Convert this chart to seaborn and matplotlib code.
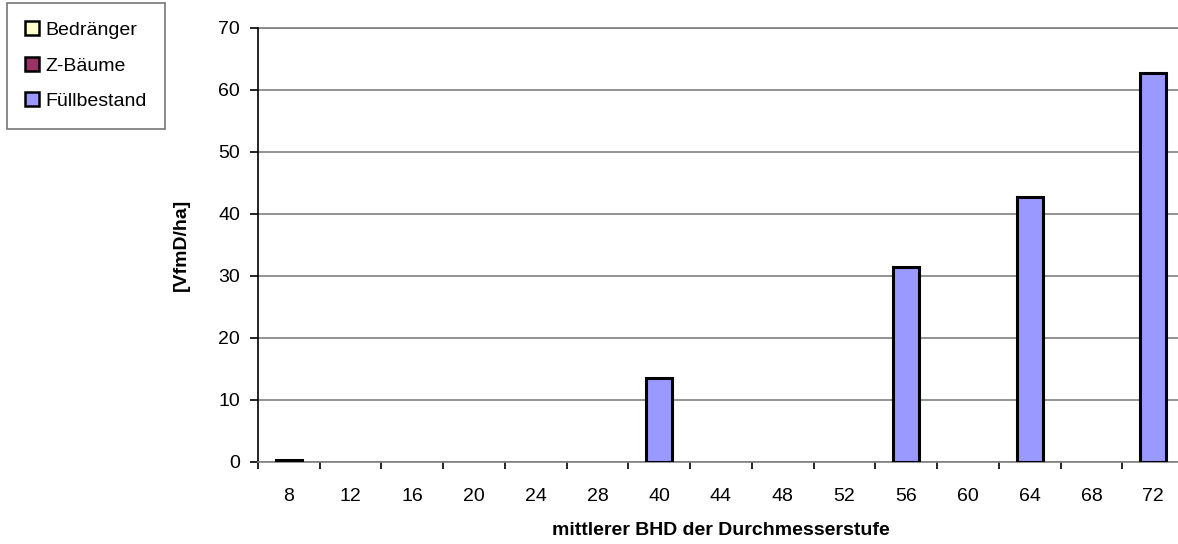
import numpy as np, pandas as pd
import matplotlib as mpl; mpl.use("Agg")
import matplotlib.pyplot as plt
from matplotlib.patches import Patch
import seaborn as sns

# classes (mittlerer BHD) and stacked series values [VfmD/ha]
BHD = [8, 12, 16, 20, 24, 28, 40, 44, 48, 52, 56, 60, 64, 68, 72]
BEDRAENGER = [0, 0, 0, 0, 0, 0, 0, 0, 0, 0, 0, 0, 0, 0, 0]
Z_BAEUME = [0, 0, 0, 0, 0, 0, 0, 0, 0, 0, 0, 0, 0, 0, 0]
FUELL = [0.25, 0, 0, 0, 0, 0, 13.6, 0, 0, 0, 31.5, 0, 42.7, 0, 62.7]
SERIES = ["Bedränger", "Z-Bäume", "Füllbestand"]
PAL = {"Bedränger": "#FFFFCC", "Z-Bäume": "#993366", "Füllbestand": "#9999FF"}

sns.set_theme(style="white")
plt.rcParams["font.family"] = ["Liberation Sans", "DejaVu Sans"]
plt.rcParams.update({"text.color": "black", "axes.labelcolor": "black",
                     "xtick.color": "black", "ytick.color": "black"})

df = pd.DataFrame({"BHD": [str(b) for b in BHD], "Bedränger": BEDRAENGER,
                   "Z-Bäume": Z_BAEUME, "Füllbestand": FUELL})
# cumulative tops for stacking (Excel order: first series at bottom)
df["top_B"] = df["Bedränger"]
df["top_Z"] = df["top_B"] + df["Z-Bäume"]
df["top_F"] = df["top_Z"] + df["Füllbestand"]

fig = plt.figure(figsize=(11.78, 5.44), dpi=100)
# plot area runs a little past the right image edge, as in the original export
ax = fig.add_axes([258/1178, 1-462/544, (1184-258)/1178, (462-28)/544])
order = [str(b) for b in BHD]
for col, name in [("top_F", "Füllbestand"), ("top_Z", "Z-Bäume"), ("top_B", "Bedränger")]:
    d = df.copy(); d[col] = d[col].where(d[col] > 0)  # Excel skips empty bars
    sns.barplot(data=d, x="BHD", y=col, order=order, color=PAL[name], saturation=1,
                width=0.42, edgecolor="black", linewidth=2.2, ax=ax, zorder=3)

ax.set_ylim(0, 70); ax.set_yticks(range(0, 71, 10))
ax.set_xlim(-0.5, len(BHD)-0.5)
ax.grid(axis="y", color="#808080", lw=1.2, zorder=0)
for s in ("right", "top"): ax.spines[s].set_visible(False)
ax.spines["left"].set_color("black"); ax.spines["left"].set_linewidth(1.2)
ax.spines["bottom"].set_color("#808080"); ax.spines["bottom"].set_linewidth(1.2)
ax.axhline(70, color="#808080", lw=1.2, zorder=0, clip_on=False)
ax.tick_params(axis="both", labelsize=14, colors="black", width=1.2, direction="out")
ax.tick_params(axis="y", left=True, length=6, pad=7)
ax.tick_params(axis="x", length=0, pad=19)
# tick marks between the categories
ax.set_xticks(np.arange(-0.5, len(BHD), 1), minor=True)
ax.tick_params(axis="x", which="minor", length=5, width=1.2, color="black", direction="out", bottom=True)
ax.set_xlabel("mittlerer BHD der Durchmesserstufe", fontsize=14, fontweight="bold", labelpad=12)
ax.set_ylabel("[VfmD/ha]", fontsize=14, fontweight="bold", labelpad=20)

handles = [Patch(facecolor=PAL[s], edgecolor="black", linewidth=1.8, label=s) for s in SERIES]
leg = fig.legend(handles=handles, loc="upper left", bbox_to_anchor=(7/1178, 1-3/544),
                 frameon=True, fancybox=False, fontsize=14, handlelength=0.7, handleheight=0.7,
                 handletextpad=0.3, labelspacing=0.92, borderpad=0.95, borderaxespad=0)
leg.get_frame().set_edgecolor("#555555"); leg.get_frame().set_linewidth(1.2)
for t in leg.get_texts(): t.set_color("black")

fig.savefig("out.png", dpi=100)
